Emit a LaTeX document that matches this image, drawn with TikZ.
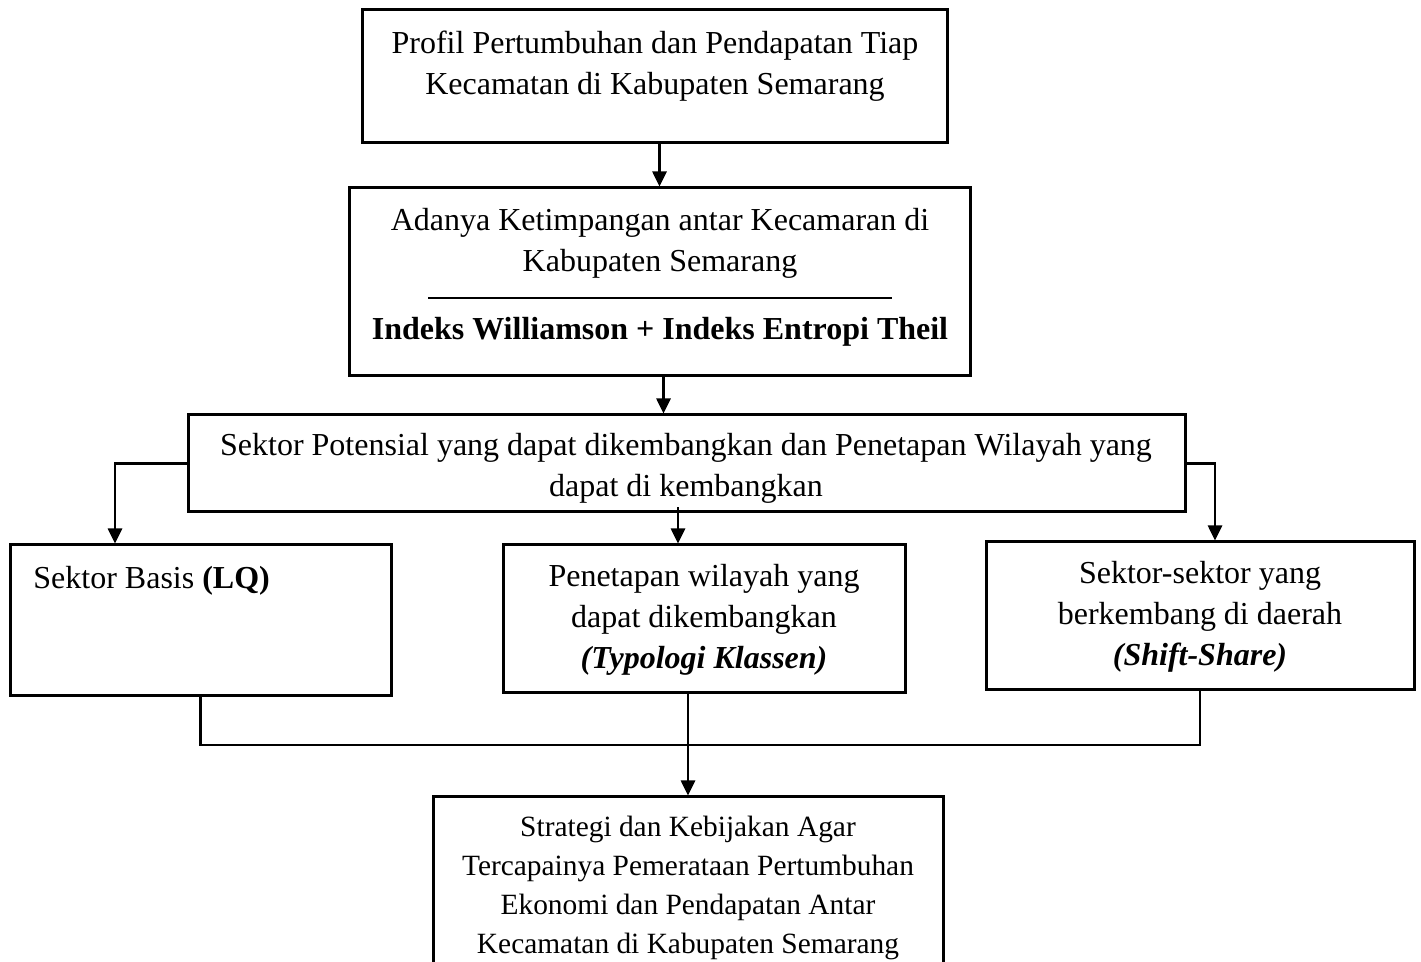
\documentclass[tikz,border=0pt]{standalone}
\usepackage{fontspec}
\setmainfont{Liberation Serif}
\usetikzlibrary{arrows.meta,fit}

\begin{document}
\begin{tikzpicture}[x=0.5pt,y=-0.5pt,
  box/.style={draw,line width=1.5pt,inner sep=0pt},
  txt/.style={align=center,inner sep=0pt,font=\fontsize{16}{20.5}\selectfont},
  line/.style={line width=1.3pt},
  arr/.style={line width=1.3pt,-{Triangle[length=7.5pt,width=7pt]}}]

  \useasboundingbox (0,0) rectangle (1421,962);

  \node [box, fit={(362,10) (947,143)}] (profil) {};
  \node [box, fit={(349,188) (970,376)}] (adanya) {};
  \node [box, fit={(188,415) (1185,512)}] (potensi) {};
  \node [box, fit={(10,545) (391,696)}] (basis) {};
  \node [box, fit={(503,545) (905,693)}] (klassen) {};
  \node [box, fit={(986,542) (1414,690)}] (shift) {};
  \node [box, fit={(433,797) (943,985)}] (strategi) {};

  \node [txt] (tprofil) at (655,66) {Profil Pertumbuhan dan Pendapatan Tiap\\Kecamatan di Kabupaten Semarang};
  \node [txt] (tadanya) at (660,243) {Adanya Ketimpangan antar Kecamaran di\\Kabupaten Semarang};
  \draw [line width=1pt] (428,298) -- (892,298);
  \node [txt, font=\fontsize{16}{20.5}\selectfont\bfseries] (tindeks) at (660,332) {Indeks Williamson + Indeks Entropi Theil};
  \node [txt] (tpotensi) at (686,468) {Sektor Potensial yang dapat dikembangkan dan Penetapan Wilayah yang\\dapat di kembangkan};
  \node [txt, anchor=west] (tbasis) at (33,581) {Sektor Basis \textbf{(LQ)}};
  \node [txt] (tklassen) at (704,620) {Penetapan wilayah yang\\dapat dikembangkan\\\textbf{\textit{(Typologi Klassen)}}};
  \node [txt] (tshift) at (1200,617) {Sektor-sektor yang\\berkembang di daerah\\\textbf{\textit{(Shift-Share)}}};
  \node [txt, font=\fontsize{14.7}{19.4}\selectfont] (tstrategi) at (688,888) {Strategi dan Kebijakan Agar\\Tercapainya Pemerataan Pertumbuhan\\Ekonomi dan Pendapatan Antar\\Kecamatan di Kabupaten Semarang};

  \coordinate (join) at (688,745);

  \draw [arr] (profil.south -| adanya.north) -- (adanya.north);
  \draw [arr] ([xshift=2pt]adanya.south) -- ([xshift=2pt]adanya.south |- potensi.north);
  \draw [arr] (potensi.west) -| ([xshift=-42.75pt]basis.north);
  \draw [arr] (potensi.east) -| ([xshift=7.5pt]shift.north);
  \draw [arr] ([xshift=-13pt,yshift=3pt]klassen.north |- potensi.south) -- ([xshift=-13pt]klassen.north);
  \draw [line] (basis.south) |- (join) -| (shift.south);
  \draw [arr] (klassen.south -| join) -- (join) -- (strategi.north -| join);
\end{tikzpicture}
\end{document}
